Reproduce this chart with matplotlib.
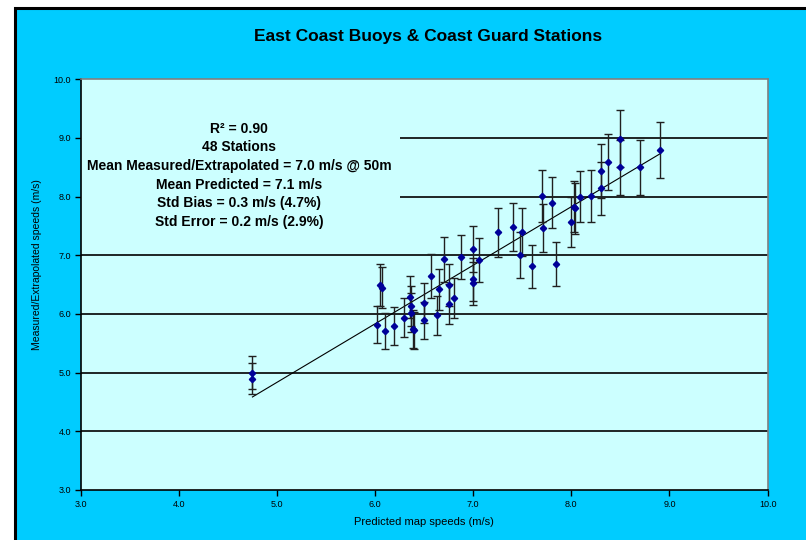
import numpy as np
import matplotlib
matplotlib.use("Agg")
import matplotlib.pyplot as plt
from matplotlib.patches import Rectangle

# predicted map speed vs measured/extrapolated speed, one entry per station (m/s)
predicted = [4.75, 4.75, 6.02, 6.05, 6.07, 6.10, 6.19, 6.29, 6.36, 6.37,
             6.37, 6.39, 6.40, 6.50, 6.50, 6.57, 6.63, 6.65, 6.70, 6.75,
             6.75, 6.80, 6.88, 7.00, 7.00, 7.00, 7.06, 7.25, 7.41, 7.50,
             7.48, 7.60, 7.70, 7.71, 7.80, 7.84, 8.00, 8.03, 8.04, 8.09,
             8.20, 8.30, 8.30, 8.37, 8.50, 8.50, 8.70, 8.90]
measured = [5.00, 4.90, 5.82, 6.49, 6.45, 5.71, 5.80, 5.94, 6.29, 6.14,
            6.02, 5.74, 5.72, 6.18, 5.89, 6.65, 5.98, 6.42, 6.93, 6.49,
            6.17, 6.27, 6.97, 7.11, 6.59, 6.52, 6.92, 7.39, 7.49, 7.40,
            7.00, 6.81, 8.01, 7.47, 7.90, 6.85, 7.57, 7.83, 7.80, 8.00,
            8.01, 8.43, 8.14, 8.59, 8.99, 8.50, 8.50, 8.80]
uncertainty = [0.28, 0.27, 0.32, 0.36, 0.35, 0.31, 0.32, 0.33, 0.35, 0.34,
               0.33, 0.32, 0.31, 0.34, 0.32, 0.37, 0.33, 0.35, 0.38, 0.36,
               0.34, 0.34, 0.38, 0.39, 0.36, 0.36, 0.38, 0.41, 0.41, 0.41,
               0.39, 0.37, 0.44, 0.41, 0.43, 0.38, 0.42, 0.43, 0.43, 0.44,
               0.44, 0.46, 0.45, 0.47, 0.49, 0.47, 0.47, 0.48]

# linear trend (slope, intercept)
trend = (0.998, -0.155)

stats_lines = ["R\u00b2 = 0.90",
               "48 Stations",
               "Mean Measured/Extrapolated = 7.0 m/s @ 50m",
               "Mean Predicted = 7.1 m/s",
               "Std Bias = 0.3 m/s (4.7%)",
               "Std Error = 0.2 m/s (2.9%)"]

ticks = [3.0, 4.0, 5.0, 6.0, 7.0, 8.0, 9.0, 10.0]

plt.rcParams['font.family'] = ['Liberation Sans', 'DejaVu Sans']

fig = plt.figure(figsize=(8.06, 5.4), dpi=100)
fig.patch.set_facecolor('white')

# blue chart area with black frame, running off the right and bottom edges
fig.patches.append(Rectangle((0.019, -0.05), 1.1, 0.05 + 0.985, transform=fig.transFigure,
                             facecolor='#00CCFF', edgecolor='black', linewidth=2.2, zorder=-5))

ax = fig.add_axes([0.1001, 0.0926, 0.8523, 0.7605])
ax.set_facecolor('#CCFFFF')

ax.set_xlim(3, 10)
ax.set_ylim(3, 10)
ax.set_xticks(ticks)
ax.set_yticks(ticks)
ax.set_xticklabels(['%.1f' % t for t in ticks])
ax.set_yticklabels(['%.1f' % t for t in ticks])
ax.tick_params(direction='out', length=4, width=1, labelsize=6.5, pad=3)

for t in ticks[1:-1]:
    ax.axhline(t, color='black', linewidth=1.2, zorder=1)

ax.spines['left'].set_color('black')
ax.spines['bottom'].set_color('black')
ax.spines['top'].set_color('#808080')
ax.spines['right'].set_color('#808080')
for s in ax.spines.values():
    s.set_linewidth(1.2)

# box behind the statistics hides part of the gridlines
ax.add_patch(Rectangle((0, 0.633), 0.465, 0.287, transform=ax.transAxes,
                       facecolor='#CCFFFF', edgecolor='none', zorder=2))

xs = np.array([min(predicted), max(predicted)])
ax.plot(xs, trend[0] * xs + trend[1], color='black', linewidth=0.8, zorder=3)

ax.errorbar(predicted, measured, yerr=uncertainty, fmt='D', color='#000099',
            markersize=3.2, ecolor='#202020', elinewidth=1.0, capsize=2.8, capthick=1.0,
            zorder=4)

ax.text(0.2305, 0.766, "\n".join(stats_lines), transform=ax.transAxes,
        ha='center', va='center', fontsize=10, fontweight='bold',
        linespacing=1.42, zorder=5)

ax.set_xlabel('Predicted map speeds (m/s)', fontsize=8)
ax.xaxis.set_label_coords(0.5, -0.065)
ax.set_ylabel('Measured/Extrapolated speeds (m/s)', fontsize=7.5)
ax.yaxis.set_label_coords(-0.056, 0.548)

fig.text(0.531, 0.933, 'East Coast Buoys & Coast Guard Stations',
         ha='center', va='center', fontsize=12.5, fontweight='bold')

fig.savefig('out.png', dpi=100)
